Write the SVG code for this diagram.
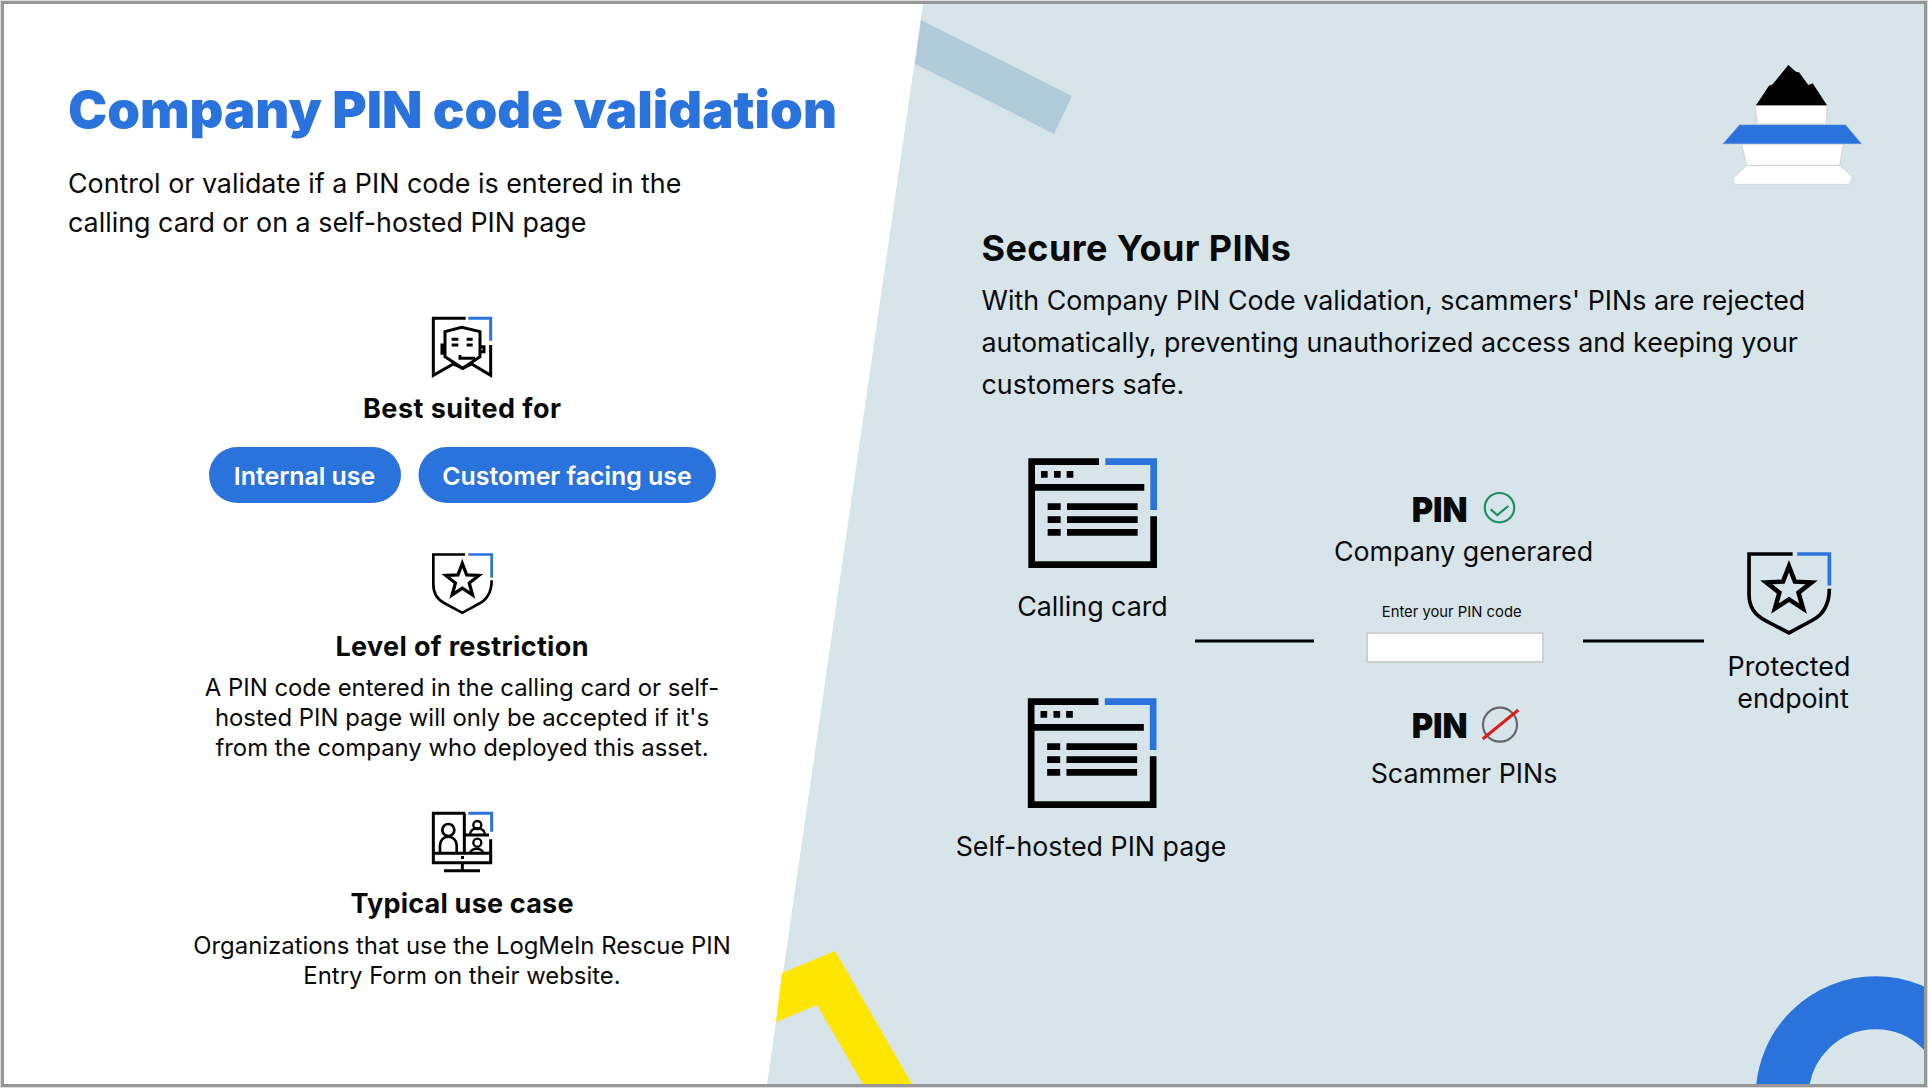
<svg xmlns="http://www.w3.org/2000/svg" xmlns:xlink="http://www.w3.org/1999/xlink" width="1929" height="1089" viewBox="0 0 1929 1089">
<style>
text{font-family:"Inter","Liberation Sans",sans-serif;fill:#0a0a0a}
.m{text-anchor:middle}
.h{font-weight:700;font-size:27px}
.p{font-size:23.9px}
.l{font-size:26.8px}
.big{font-size:26.85px}
.pill{font-weight:600;font-size:24.9px;fill:#fff;text-anchor:middle}
.pin{font-weight:900;font-size:34.5px}
.k{fill:none;stroke:#000;stroke-linejoin:miter}
.b{fill:none;stroke:#2a73dd}
.lg{stroke:#c8c8c8;stroke-width:2;fill:#fff}
</style>
<defs>
<clipPath id="fr"><rect x="4" y="4" width="1920" height="1080"/></clipPath>
<polygon id="star" points="0,-100 25,-34 95,-31 40,13 59,81 0,42 -59,81 -40,13 -95,-31 -25,-34"/>
<g id="shield">
<path class="k" stroke-width="8" d="M165 45H70V135C70 165 85 182 105 192L157 220L208 192C230 180 245 160 245 122"/>
<path class="b" stroke-width="8" d="M175 45H245V115"/>
<use href="#star" transform="translate(157 124) scale(.52)" fill="none" stroke="#000" stroke-width="19"/>
</g>
<g id="browser">
<path class="k" stroke-width="20" d="M267 65H65V374H431V229"/>
<path class="b" stroke-width="20" d="M286 65H431V210"/>
<path class="k" stroke-width="20" d="M65 142H403"/>
<path d="M93 93h20v20h-20zM132 93h20v20h-20zM170 93h20v20h-20zM113 190h39v20h-39zM171 190h212v20h-212zM113 229h39v20h-39zM171 229h212v20h-212zM113 267h39v20h-39zM171 267h212v20h-212z"/>
</g>
</defs>
<rect width="1929" height="1089" fill="#fff"/>
<g id="panel" clip-path="url(#fr)">
<polygon points="923,4 1924,4 1924,1084 767,1084" fill="#d7e4ea"/>
<polygon points="921,20 1072,96 1054,134 915,64" fill="#b0ccda"/>
<polygon points="835,951 782,973 776,1022 817,1005 863,1084 912,1084" fill="#ffe600"/>
<circle cx="1875.7" cy="1096.3" r="93.5" fill="none" stroke="#2a73dd" stroke-width="53"/>
</g>
<rect x="2.5" y="2.5" width="1923" height="1083" fill="none" stroke="#979797" stroke-width="3"/>
<rect x="0.5" y="0.5" width="1927" height="1087" fill="none" stroke="#dcdcdc" stroke-width="1"/>

<g id="header">
<text x="68" y="128" font-size="51.5" font-weight="900" textLength="769" lengthAdjust="spacingAndGlyphs" style="fill:#2a73dd">Company PIN code validation</text>
<text x="68" y="193" class="big">Control or validate if a PIN code is entered in the</text>
<text x="68" y="232" class="big">calling card or on a self-hosted PIN page</text>
</g>
<g id="best-suited">
<g transform="translate(400 300) scale(.3333)">
<path class="k" stroke-width="9" d="M197 55H100V226L160 192L188 205L215 192L272 226V135"/>
<path class="b" stroke-width="9" d="M205 55H272V122"/>
<path class="k" stroke-width="9" d="M188 205L135 170V95L185 82L240 95V170ZM135 135H126V160H135M240 140H252V155H240M155 118H175M200 118H218M155 135H175M200 135H218M180 165V175H225"/>
</g>
<text x="462" y="418" class="m h" textLength="198">Best suited for</text>
</g>
<g id="pill-internal"><rect x="209" y="447" width="192" height="56" rx="28" fill="#2a73dd"/><text x="304.5" y="484.5" class="pill">Internal use</text></g>
<g id="pill-customer"><rect x="418.5" y="447" width="297.5" height="56" rx="28" fill="#2a73dd"/><text x="567" y="484.5" class="pill">Customer facing use</text></g>
<g id="restriction">
<use href="#shield" transform="translate(410 539.5) scale(.3333)"/>
<text x="462" y="656" class="m h" textLength="253">Level of restriction</text>
<text x="462" y="695.5" class="m p">A PIN code entered in the calling card or self-</text>
<text x="462" y="726" class="m p">hosted PIN page will only be accepted if it's</text>
<text x="462" y="755.5" class="m p">from the company who deployed this asset.</text>
</g>
<g id="use-case">
<g transform="translate(420 800) scale(.3333)">
<path class="k" stroke-width="9" d="M135 40H40V188H212V118M133 40V160M40 160H212M135 105H207M127 188V212M72 212H180"/>
<path class="b" stroke-width="9" d="M145 40H215V95"/>
<rect x="123" y="168" width="9" height="9"/>
<circle class="k" stroke-width="8" cx="85" cy="90" r="18"/>
<path class="k" stroke-width="8" d="M60 160V135A25 25 0 0 1 110 135V160"/>
<circle class="k" stroke-width="7" cx="172" cy="75" r="12"/>
<path class="k" stroke-width="7" d="M150 103A22 18 0 0 1 195 103"/>
<circle class="k" stroke-width="7" cx="172" cy="128" r="12"/>
<path class="k" stroke-width="7" d="M150 158A22 20 0 0 1 190 158"/>
</g>
<text x="462" y="913" class="m h" textLength="223">Typical use case</text>
<text x="462" y="953.5" class="m p">Organizations that use the LogMeIn Rescue PIN</text>
<text x="462" y="984" class="m p">Entry Form on their website.</text>
</g>
<g id="logo" transform="translate(1720 40) scale(.3333)">
<polygon points="107,197 147,137 158,133 205,75 228,95 237,97 265,135 278,130 322,197"/>
<polygon class="lg" points="105,197 322,197 318,252 113,252"/>
<polygon class="lg" points="65,312 370,312 359,376 80,376"/>
<polygon class="lg" points="80,377 359,377 398,410 387,433 43,433 39,415"/>
<polygon points="58,254 377,254 426,312 8,312" fill="#2a73dd" stroke="#b8c4d4" stroke-width="2"/>
</g>
<g id="intro">
<text x="981.5" y="260.5" font-size="36" font-weight="700" letter-spacing=".4">Secure Your PINs</text>
<text x="981.5" y="310" class="big">With Company PIN Code validation, scammers' PINs are rejected</text>
<text x="981.5" y="352" class="big">automatically, preventing unauthorized access and keeping your</text>
<text x="981.5" y="394" class="big">customers safe.</text>
</g>
<g id="connectors">
<path d="M1195 641H1314M1583 641H1704" stroke="#000" stroke-width="3" fill="none"/>
</g>
<g id="calling-card">
<use href="#browser" transform="translate(1010 440) scale(.3333)"/>
<text x="1092.5" y="616" class="m l">Calling card</text>
</g>
<g id="self-hosted">
<use href="#browser" transform="translate(1009.5 680) scale(.3333)"/>
<text x="1091" y="856" class="m l">Self-hosted PIN page</text>
</g>
<g id="company-pin">
<text x="1411.7" y="521.5" class="pin" textLength="56" lengthAdjust="spacingAndGlyphs">PIN</text>
<circle cx="1499.5" cy="507.7" r="14.7" fill="none" stroke="#1f8f62" stroke-width="2.2"/>
<path d="M1490.7 509.3L1497.3 515L1508.3 506" fill="none" stroke="#1f8f62" stroke-width="2.2"/>
<text x="1463.5" y="561" class="m l">Company generared</text>
</g>
<g id="pin-entry">
<text x="1451.7" y="617.3" class="m" font-size="14.8">Enter your PIN code</text>
<rect x="1367" y="633" width="176" height="29" fill="#fff" stroke="#d0d0d0" stroke-width="2"/>
</g>
<g id="scammer-pin">
<text x="1411.7" y="738.2" class="pin" textLength="56" lengthAdjust="spacingAndGlyphs">PIN</text>
<circle cx="1500" cy="724.7" r="17" fill="none" stroke="#666" stroke-width="2.2"/>
<path d="M1482.7 739L1518.3 710" stroke="#e01b1b" stroke-width="3" fill="none"/>
<text x="1464" y="782.5" class="m l">Scammer PINs</text>
</g>
<g id="endpoint">
<use href="#shield" transform="translate(1716.9 533.7) scale(.459 .451)"/>
<text x="1789" y="676" class="m l">Protected</text>
<text x="1793" y="708" class="m l">endpoint</text>
</g>
</svg>
